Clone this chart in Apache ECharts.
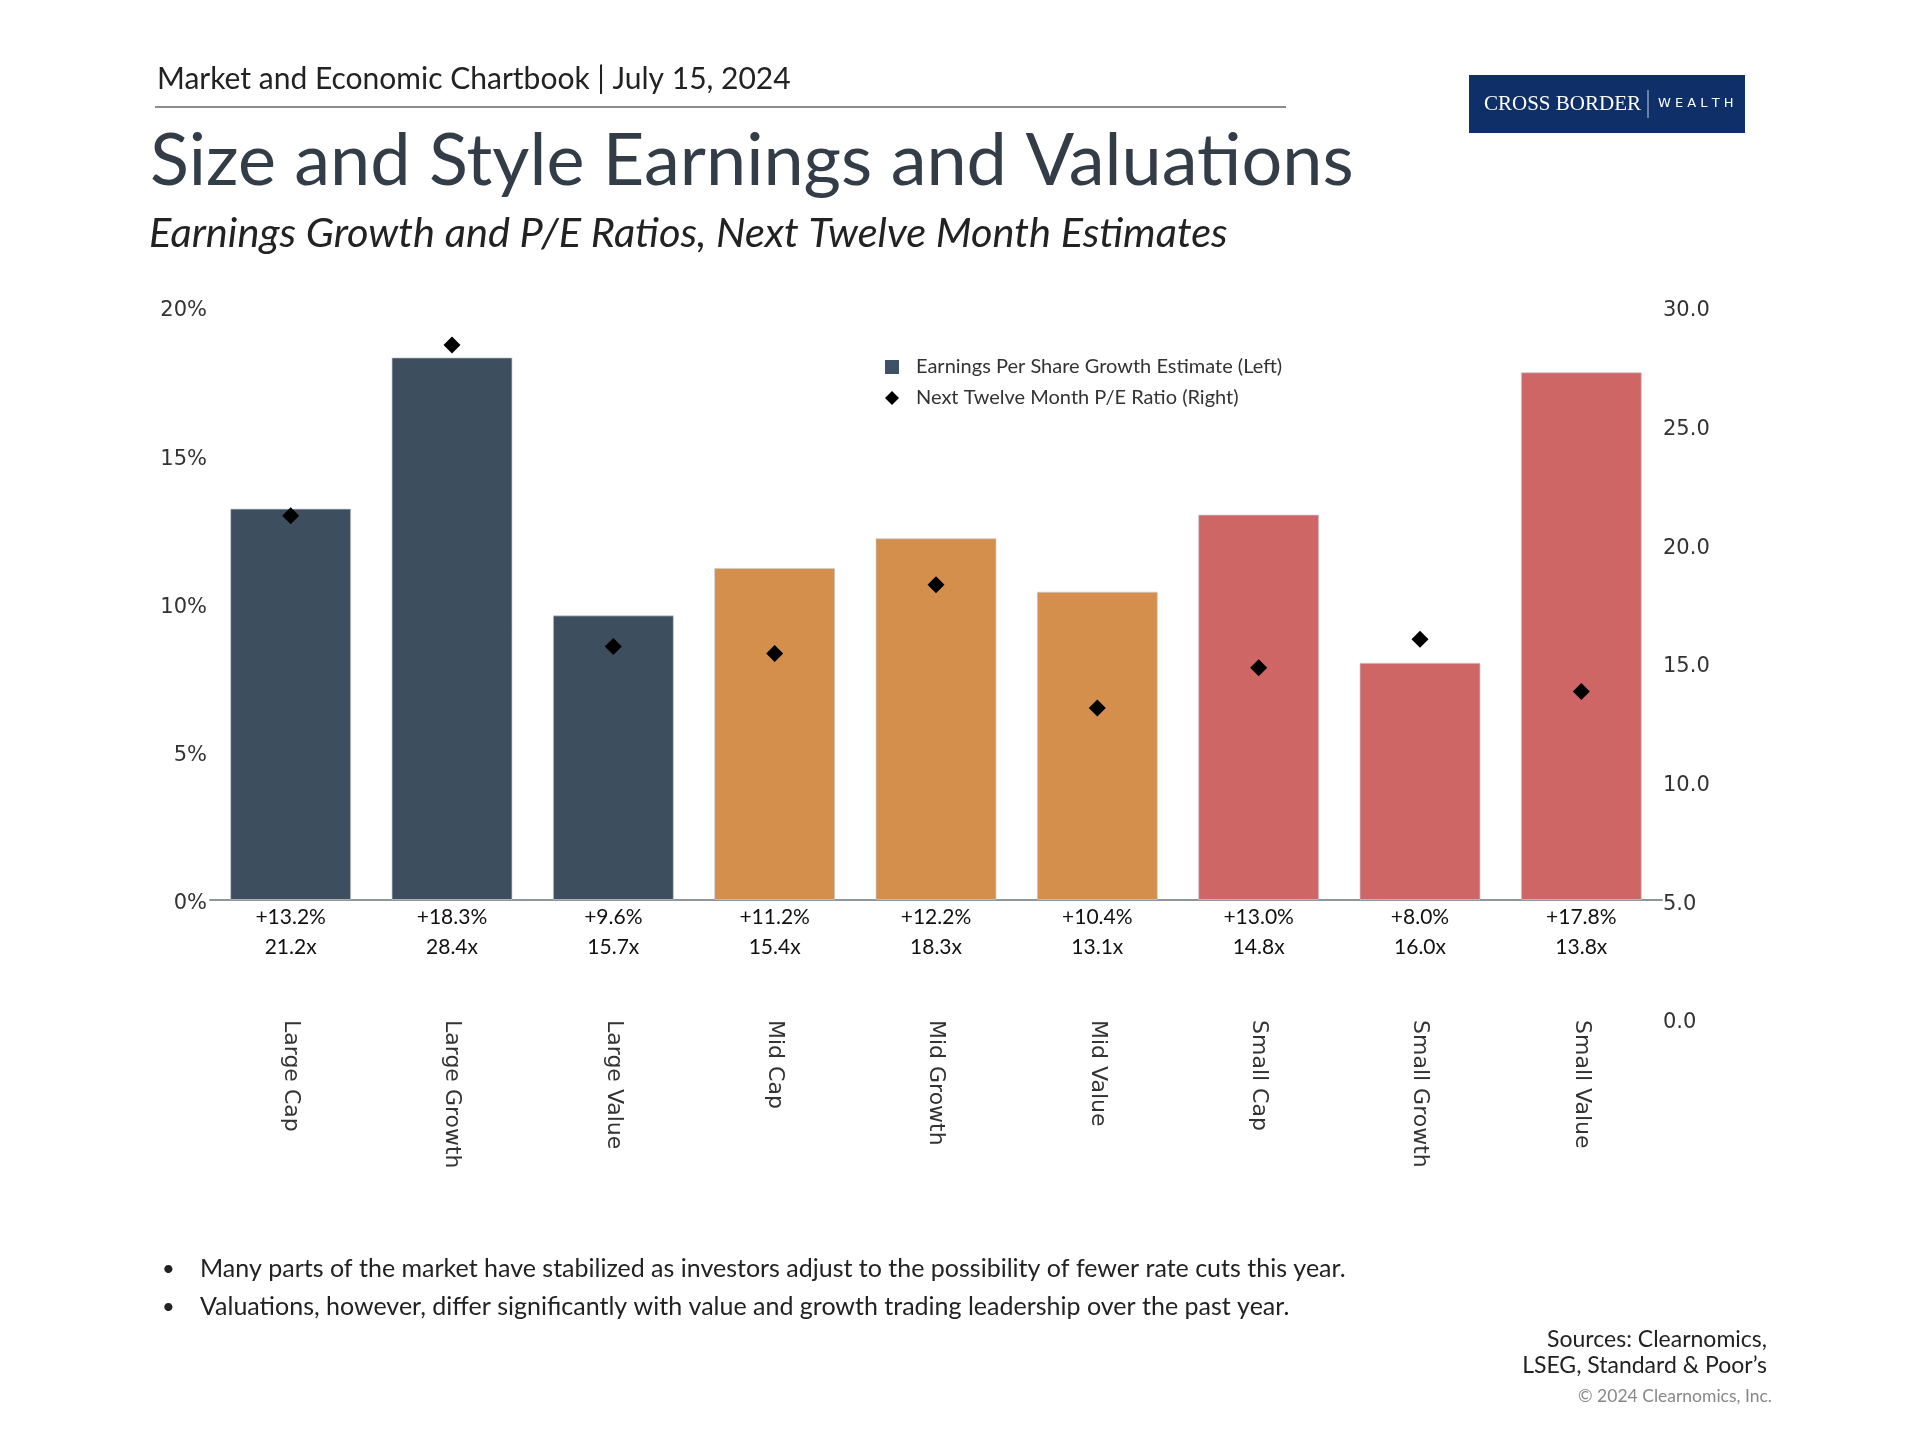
<!DOCTYPE html>
<html>
<head>
<meta charset="utf-8">
<script src="https://cdn.jsdelivr.net/npm/echarts@6/dist/echarts.min.js"></script>
<style>
html,body{margin:0;padding:0;background:#fff;}
#chart{width:1920px;height:1440px;}
</style>
</head>
<body>
<div id="chart"></div>
<script>
const categories = ['Large Cap','Large Growth','Large Value','Mid Cap','Mid Growth','Mid Value','Small Cap','Small Growth','Small Value'];
const epsGrowth = [13.2, 18.3, 9.6, 11.2, 12.2, 10.4, 13.0, 8.0, 17.8];
const peRatio = [21.2, 28.4, 15.7, 15.4, 18.3, 13.1, 14.8, 16.0, 13.8];
const groupColors = ['#3d4e5e','#3d4e5e','#3d4e5e','#d48f4c','#d48f4c','#d48f4c','#cf6666','#cf6666','#cf6666'];
const leftTicks = [0, 5, 10, 15, 20];
const rightTicks = [0, 5, 10, 15, 20, 25, 30];
const bullets = [
  'Many parts of the market have stabilized as investors adjust to the possibility of fewer rate cuts this year.',
  'Valuations, however, differ significantly with value and growth trading leadership over the past year.'
];

const chart = echarts.init(document.getElementById('chart'), null, {renderer:'canvas'});
const sans = 'Lato';
const axisFont = 'DejaVu Sans';
const tickRich = {t: {fontFamily: axisFont, fontSize: 21, color: '#333', padding: [8, 0, 0, 0]}};

const option = {
  backgroundColor: '#ffffff',
  animation: false,
  grid: [
    {left: 210, right: 258, top: 307, height: 593},
    {left: 210, right: 258, top: 307, height: 712}
  ],
  legend: {
    left: 880, top: 352, orient: 'vertical', itemGap: 11,
    itemWidth: 14, itemHeight: 14,
    textStyle: {fontFamily: sans, fontSize: 20, color: '#333', padding: [0, 0, 0, 12]},
    data: [
      {name: 'Earnings Per Share Growth Estimate (Left)', icon: 'rect', itemStyle:{color:'#3d5266'}},
      {name: 'Next Twelve Month P/E Ratio (Right)', icon: 'diamond', itemStyle:{color:'#000'}}
    ]
  },
  xAxis: [
    {
      type: 'category', gridIndex: 0, data: categories,
      axisLine: {show: true, lineStyle: {color: '#8e959c', width: 2}},
      axisTick: {show: false},
      axisLabel: {
        margin: 2, fontFamily: sans, fontSize: 21, lineHeight: 30, color: '#111',
        formatter: function(v, i){ return '+' + epsGrowth[i].toFixed(1) + '%\n' + peRatio[i].toFixed(1) + 'x'; }
      }
    },
    {
      type: 'category', gridIndex: 1, data: categories,
      axisLine: {show: false}, axisTick: {show: false},
      axisLabel: {rotate: -90, margin: 1, fontFamily: axisFont, fontSize: 22, color: '#333'}
    }
  ],
  yAxis: [
    {
      type: 'value', gridIndex: 0, position: 'left', min: 0, max: 20, interval: 5,
      axisLine: {show: false}, axisTick: {show: false}, splitLine: {show: false},
      axisLabel: {margin: 3, rich: tickRich,
        formatter: function(v){ return leftTicks.indexOf(v) >= 0 ? '{t|' + v + '%}' : ''; }}
    },
    {
      type: 'value', gridIndex: 1, position: 'right', min: 0, max: 30, interval: 5,
      axisLine: {show: false}, axisTick: {show: false}, splitLine: {show: false},
      axisLabel: {margin: 1, rich: tickRich,
        formatter: function(v){ return rightTicks.indexOf(v) >= 0 ? '{t|' + v.toFixed(1) + '}' : ''; }}
    }
  ],
  series: [
    {
      name: 'Earnings Per Share Growth Estimate (Left)', type: 'bar',
      xAxisIndex: 0, yAxisIndex: 0, barCategoryGap: '25%',
      itemStyle: {color: '#3d5266'},
      data: epsGrowth.map(function(v, i){ return {value: v, itemStyle: {color: groupColors[i], borderColor: 'rgba(200,205,212,0.7)', borderWidth: 1}}; })
    },
    {
      name: 'Next Twelve Month P/E Ratio (Right)', type: 'scatter',
      xAxisIndex: 1, yAxisIndex: 1, symbol: 'diamond', symbolSize: 17,
      itemStyle: {color: '#000', opacity: 1}, z: 5,
      data: peRatio
    }
  ],
  graphic: [
    {type:'text', left: 157, top: 64, style:{text:'Market and Economic Chartbook | July 15, 2024', font:'30px Lato', fill:'#222'}},
    {type:'line', shape:{x1:155, y1:107, x2:1286, y2:107}, style:{stroke:'#666', lineWidth:1.5}},
    {type:'text', left: 150, top: 126, style:{text:'Size and Style Earnings and Valuations', font:'72px Lato', fill:'#333d47'}},
    {type:'text', left: 149, top: 213, style:{text:'Earnings Growth and P/E Ratios, Next Twelve Month Estimates', font:'italic 41.5px Lato', fill:'#222'}},
    {type:'rect', shape:{x:1469, y:75, width:276, height:58}, style:{fill:'#0f2f68'}},
    {type:'text', x: 1484, y: 104, style:{text:'CROSS BORDER', font:'21px "Liberation Serif"', fill:'#fff', textVerticalAlign:'middle'}},
    {type:'line', shape:{x1:1648, y1:90, x2:1648, y2:118}, style:{stroke:'#c8d0e0', lineWidth:1}},
    {type:'text', x: 1658, y: 104, style:{text:'W E A L T H', font:'13px "DejaVu Sans"', fill:'#fff', textVerticalAlign:'middle'}},
    {type:'text', x: 162, y: 1269, style:{text:'•', font:'22px Lato', fill:'#222', textVerticalAlign:'middle'}},
    {type:'text', x: 200, y: 1269, style:{text: bullets[0], font:'25px Lato', fill:'#222', textVerticalAlign:'middle'}},
    {type:'text', x: 162, y: 1307, style:{text:'•', font:'22px Lato', fill:'#222', textVerticalAlign:'middle'}},
    {type:'text', x: 200, y: 1307, style:{text: bullets[1], font:'25px Lato', fill:'#222', textVerticalAlign:'middle'}},
    {type:'text', x: 1767, y: 1340, style:{text:'Sources: Clearnomics,', font:'23px Lato', fill:'#222', textAlign:'right', textVerticalAlign:'middle'}},
    {type:'text', x: 1767, y: 1366, style:{text:'LSEG, Standard & Poor\u2019s', font:'23px Lato', fill:'#222', textAlign:'right', textVerticalAlign:'middle'}},
    {type:'text', x: 1772, y: 1396, style:{text:'\u00a9 2024 Clearnomics, Inc.', font:'17.5px Lato', fill:'#888', textAlign:'right', textVerticalAlign:'middle'}}
  ]
};
chart.setOption(option);
</script>
</body>
</html>
